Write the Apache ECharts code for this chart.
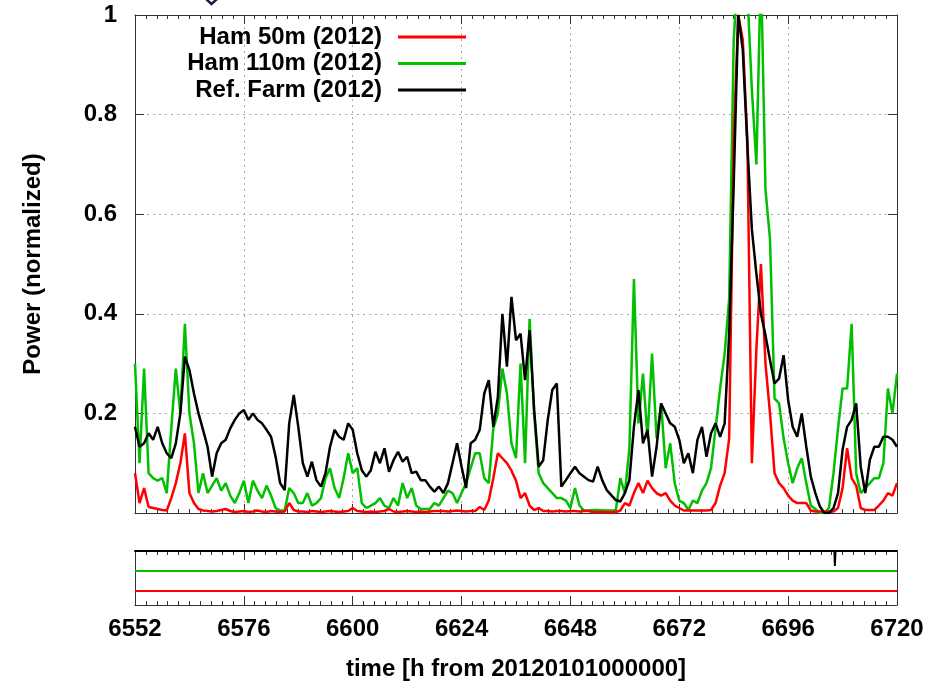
<!DOCTYPE html>
<html><head><meta charset="utf-8">
<script src="https://cdn.jsdelivr.net/npm/echarts@6/dist/echarts.min.js"></script>
<style>html,body{margin:0;padding:0;background:#fff}#c{width:929px;height:689px}</style>
</head><body><div id="c"></div>
<script>
// ---- data (hourly, starting at hour 6552) ----
const startHour = 6552;
const xTickLabels = [6552, 6576, 6600, 6624, 6648, 6672, 6696, 6720];
const yTickLabels = ['0.2', '0.4', '0.6', '0.8', '1'];
const seriesNames = ['Ham 50m (2012)', 'Ham 110m (2012)', 'Ref. Farm (2012)'];

const ham50 = [
0.08,0.02,0.05,0.012,0.01,0.008,0.006,0.005,0.03,0.06,
0.1,0.16,0.04,0.02,0.008,0.005,0.004,0.003,0.004,0.006,
0.008,0.004,0.002,0.003,0.004,0.002,0.003,0.005,0.003,0.002,
0.004,0.003,0.002,0.003,0.02,0.006,0.003,0.003,0.002,0.004,
0.003,0.002,0.003,0.004,0.003,0.002,0.003,0.004,0.01,0.004,
0.003,0.002,0.003,0.002,0.003,0.004,0.008,0.003,0.002,0.003,
0.004,0.003,0.002,0.003,0.002,0.003,0.004,0.004,0.004,0.003,
0.004,0.005,0.004,0.003,0.004,0.004,0.012,0.006,0.025,0.07,
0.12,0.11,0.1,0.085,0.065,0.03,0.04,0.015,0.006,0.01,
0.004,0.004,0.003,0.004,0.004,0.003,0.004,0.004,0.003,0.004,
0.004,0.002,0.002,0.002,0.002,0.002,0.002,0.005,0.02,0.015,
0.04,0.06,0.04,0.065,0.05,0.04,0.035,0.04,0.025,0.015,
0.01,0.005,0.005,0.005,0.005,0.005,0.005,0.006,0.02,0.055,
0.08,0.15,0.75,1.0,0.95,0.75,0.1,0.33,0.5,0.3,
0.2,0.08,0.06,0.05,0.035,0.025,0.02,0.02,0.02,0.005,
0.003,0.003,0.003,0.003,0.003,0.01,0.05,0.13,0.07,0.055,
0.01,0.006,0.006,0.006,0.015,0.025,0.04,0.035,0.06
];
const ham110 = [
0.30,0.10,0.29,0.08,0.07,0.065,0.07,0.04,0.17,0.29,
0.2,0.38,0.2,0.14,0.04,0.08,0.04,0.055,0.07,0.045,
0.06,0.035,0.02,0.04,0.065,0.02,0.065,0.045,0.03,0.055,
0.035,0.01,0.005,0.005,0.05,0.04,0.02,0.02,0.04,0.015,
0.02,0.03,0.07,0.09,0.05,0.03,0.07,0.12,0.08,0.09,
0.02,0.01,0.015,0.02,0.03,0.015,0.01,0.03,0.015,0.06,
0.03,0.05,0.015,0.008,0.008,0.008,0.02,0.015,0.03,0.045,
0.04,0.02,0.04,0.06,0.09,0.12,0.12,0.07,0.06,0.17,
0.2,0.29,0.24,0.14,0.11,0.3,0.1,0.39,0.2,0.08,
0.06,0.05,0.04,0.03,0.03,0.025,0.01,0.05,0.015,0.005,
0.005,0.006,0.006,0.005,0.005,0.005,0.005,0.07,0.04,0.13,
0.47,0.18,0.28,0.15,0.32,0.15,0.22,0.09,0.14,0.06,
0.025,0.02,0.006,0.025,0.02,0.045,0.06,0.09,0.17,0.25,
0.32,0.43,0.95,1.1,1.1,1.05,0.85,0.7,1.1,0.65,
0.55,0.23,0.22,0.15,0.1,0.06,0.09,0.11,0.06,0.015,
0.008,0.0,0.0,0.01,0.08,0.17,0.25,0.25,0.38,0.08,
0.04,0.05,0.06,0.07,0.07,0.1,0.25,0.2,0.28
];
const refFarm = [
0.173,0.133,0.14,0.16,0.147,0.173,0.14,0.12,0.11,0.14,
0.2,0.314,0.287,0.24,0.2,0.167,0.133,0.073,0.12,0.14,
0.147,0.17,0.187,0.2,0.207,0.187,0.2,0.187,0.18,0.167,
0.153,0.113,0.06,0.046,0.18,0.237,0.173,0.1,0.073,0.103,
0.066,0.053,0.08,0.133,0.167,0.153,0.147,0.18,0.167,0.12,
0.086,0.073,0.086,0.123,0.1,0.13,0.083,0.106,0.123,0.103,
0.113,0.08,0.083,0.066,0.066,0.053,0.043,0.053,0.04,0.06,
0.1,0.14,0.093,0.05,0.14,0.147,0.167,0.24,0.267,0.173,
0.233,0.4,0.294,0.434,0.347,0.36,0.267,0.367,0.207,0.093,
0.106,0.187,0.247,0.26,0.053,0.066,0.08,0.093,0.08,0.073,
0.066,0.063,0.093,0.066,0.046,0.036,0.026,0.023,0.04,0.066,
0.173,0.247,0.14,0.167,0.073,0.133,0.22,0.2,0.18,0.173,
0.147,0.1,0.12,0.08,0.147,0.173,0.113,0.16,0.18,0.153,
0.18,0.36,0.66,1.0,0.93,0.74,0.57,0.48,0.40,0.357,
0.307,0.26,0.27,0.317,0.227,0.173,0.153,0.2,0.133,0.073,
0.04,0.013,0.0,0.0,0.01,0.04,0.127,0.173,0.187,0.22,
0.093,0.04,0.106,0.133,0.133,0.153,0.153,0.147,0.133
];
// availability flags (lower panel): [hour, level]
const flagRef = [[6552,3],[6706.2,3],[6706.3,2.25],[6706.45,3],[6720,3]];
const flag110 = [[6552,2],[6720,2]];
const flag50  = [[6552,1],[6720,1]];

// ---- chart ----
const F = 'Liberation Sans, Arial, sans-serif';
const pairs = arr => arr.map((v, i) => [startHour + i, v]);
const AX = '#333';

function xa(gridIndex, position, showLabel, showSplit, name) {
  return {
    type: 'value', gridIndex, position,
    min: xTickLabels[0], max: xTickLabels[xTickLabels.length - 1], interval: 24,
    axisLine: {show: true, onZero: false, lineStyle: {color: AX, width: 1}},
    axisTick: {show: true, inside: true, length: 9, lineStyle: {color: AX}},
    minorTick: {show: true, splitNumber: 10, length: 4, lineStyle: {color: AX}},
    axisLabel: {show: showLabel, margin: 12, fontSize: 24, fontWeight: 'bold', fontFamily: F, color: '#000',
      formatter: v => String(v)},
    splitLine: {show: showSplit, lineStyle: {color: '#a8a8a8', type: [2, 4], width: 1}},
    name: name || '', nameLocation: 'middle', nameGap: 52,
    nameTextStyle: {fontSize: 24, fontWeight: 'bold', fontFamily: F, color: '#000'}
  };
}
function ya(gridIndex, position, opts) {
  return Object.assign({
    type: 'value', gridIndex, position,
    axisLine: {show: true, onZero: false, lineStyle: {color: AX, width: 1}},
    axisTick: {show: false},
    axisLabel: {show: false},
    splitLine: {show: false}
  }, opts);
}

const chart = echarts.init(document.getElementById('c'), null, {renderer: 'canvas'});
chart.setOption({
  animation: false,
  backgroundColor: '#fff',
  grid: [
    {left: 135, right: 32, top: 15, height: 498},
    {left: 135, right: 32, top: 551, height: 54}
  ],
  xAxis: [
    xa(0, 'bottom', false, true),
    xa(0, 'top', false, false),
    xa(1, 'bottom', true, false, 'time [h from 20120101000000]'),
    Object.assign(xa(1, 'top', false, false), {axisLine: {show: true, onZero: false, lineStyle: {color: '#000', width: 2}}})
  ],
  yAxis: [
    ya(0, 'left', {
      min: 0, max: 1, interval: 0.2,
      axisTick: {show: true, inside: true, length: 9, lineStyle: {color: AX}},
      axisLabel: {show: true, margin: 18, fontSize: 24, fontWeight: 'bold', fontFamily: F, color: '#000',
        formatter: v => { const i = Math.round(v / 0.2) - 1; return i >= 0 ? yTickLabels[i] : ''; }},
      splitLine: {show: true, lineStyle: {color: '#a8a8a8', type: [2, 4], width: 1}},
      name: 'Power (normalized)', nameLocation: 'middle', nameGap: 90, nameRotate: 90,
      nameTextStyle: {fontSize: 24, fontWeight: 'bold', fontFamily: F, color: '#000'}
    }),
    ya(0, 'right', {min: 0, max: 1, interval: 0.2,
      axisTick: {show: true, inside: true, length: 9, lineStyle: {color: AX}}}),
    ya(1, 'left', {min: 0.3, max: 3}),
    ya(1, 'right', {min: 0.3, max: 3})
  ],
  legend: {
    orient: 'vertical', align: 'right', right: 463, top: 25, padding: 0,
    itemWidth: 68, itemHeight: 3, itemGap: 2.5, icon: 'rect',
    data: seriesNames,
    textStyle: {fontSize: 24, fontWeight: 'bold', fontFamily: F, color: '#000', padding: [0, 11, 0, 0]}
  },
  graphic: [{
    type: 'polyline', shape: {points: [[206, -1], [211.5, 4], [217, -1]]},
    style: {stroke: '#1c1c3c', lineWidth: 2.5, fill: null}
  }],
  series: [
    {name: seriesNames[1], type: 'line', xAxisIndex: 0, yAxisIndex: 0, data: pairs(ham110),
      showSymbol: false, symbol: 'none', color: '#00c000', lineStyle: {width: 2.5, color: '#00c000'}, z: 2},
    {name: seriesNames[0], type: 'line', xAxisIndex: 0, yAxisIndex: 0, data: pairs(ham50),
      showSymbol: false, symbol: 'none', color: '#ff0000', lineStyle: {width: 2.5, color: '#ff0000'}, z: 3},
    {name: seriesNames[2], type: 'line', xAxisIndex: 0, yAxisIndex: 0, data: pairs(refFarm),
      showSymbol: false, symbol: 'none', color: '#000000', lineStyle: {width: 2.5, color: '#000000'}, z: 4},
    {name: 'flag110', type: 'line', xAxisIndex: 2, yAxisIndex: 2, data: flag110,
      symbol: 'none', lineStyle: {width: 2, color: '#00c000'}},
    {name: 'flag50', type: 'line', xAxisIndex: 2, yAxisIndex: 2, data: flag50,
      symbol: 'none', lineStyle: {width: 2, color: '#ff0000'}},
    {name: 'flagRef', type: 'line', xAxisIndex: 2, yAxisIndex: 2, data: flagRef,
      symbol: 'none', lineStyle: {width: 2, color: '#000000'}}
  ]
});
</script></body></html>
